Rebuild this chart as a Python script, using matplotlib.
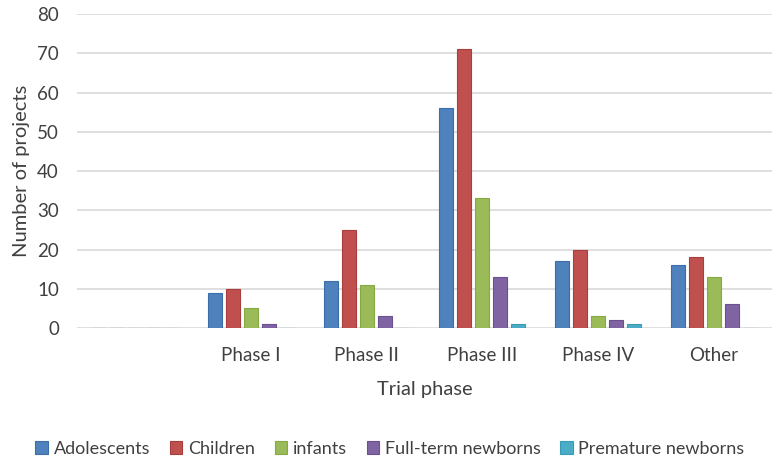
import matplotlib
matplotlib.use("Agg")
import matplotlib.pyplot as plt
import numpy as np

plt.rcParams['font.family'] = ['Lato', 'DejaVu Sans']

# first slot is empty in the original chart
phases = ["", "Phase I", "Phase II", "Phase III", "Phase IV", "Other"]
series_names = ["Adolescents", "Children", "infants",
                "Full-term newborns", "Premature newborns"]
adolescents = [0, 9, 12, 56, 17, 16]
children = [0, 10, 25, 71, 20, 18]
infants = [0, 5, 11, 33, 3, 13]
fullterm = [0, 1, 3, 13, 2, 6]
premature = [0, 0, 0, 1, 1, 0]
values = [adolescents, children, infants, fullterm, premature]

fill_colors = ['#4F81BD', '#C0504D', '#9BBB59', '#8064A2', '#4BACC6']
edge_colors = ['#3A6DAA', '#A83E3B', '#86A845', '#6A5090', '#389AB4']

fig = plt.figure(figsize=(7.8, 4.63), dpi=100)
ax = fig.add_axes([0.0987, 0.2916, 0.891, 0.678])

x = np.arange(len(phases))
pitch = 0.155
width = 0.121
for k, (name, vals) in enumerate(zip(series_names, values)):
    offset = (k - 2) * pitch
    ax.bar(x + offset, vals, width, label=name, color=fill_colors[k],
           edgecolor=edge_colors[k], linewidth=0.8, zorder=3)

ax.set_xlim(-0.5, len(phases) - 0.5)
ax.set_ylim(0, 80)
ax.set_yticks(np.arange(0, 81, 10))
ax.set_xticks(x)
ax.set_xticklabels(phases)
ax.grid(axis='y', color='#D9D9D9', linewidth=1.2, zorder=0)
for s in ax.spines.values():
    s.set_visible(False)
ax.tick_params(axis='both', length=0, labelsize=13.5, colors='#404040')
ax.tick_params(axis='y', pad=13)
ax.tick_params(axis='x', pad=14)

ax.set_xlabel("Trial phase", fontsize=14.5, color='#404040', labelpad=12)
ax.set_ylabel("Number of projects", fontsize=14.5, color='#404040', labelpad=5)

fig.legend(loc='center', bbox_to_anchor=(0.5, 0.03), ncol=5, frameon=False,
           fontsize=13, handlelength=0.7, handleheight=0.7, handletextpad=0.3,
           columnspacing=1.1, labelcolor='#404040')

fig.savefig("out.png", dpi=100)
